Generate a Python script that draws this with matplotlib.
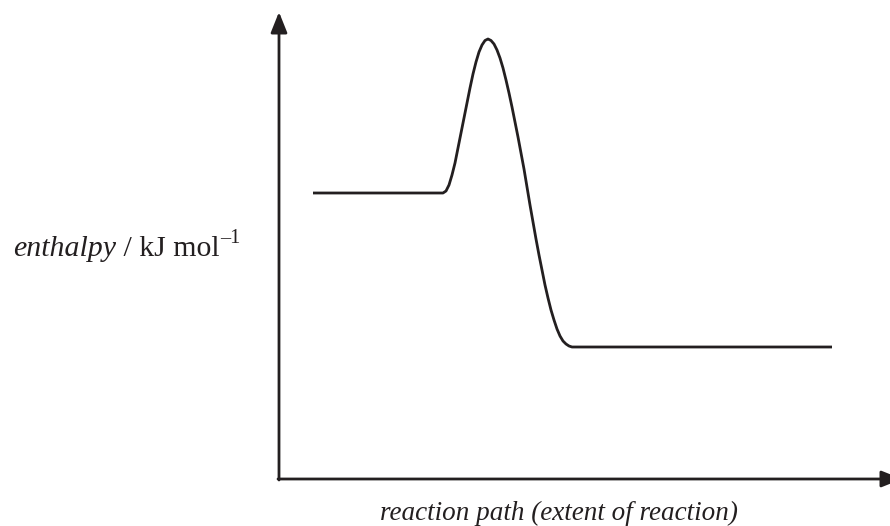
import matplotlib as mpl
mpl.use('agg')
import matplotlib.pyplot as plt

plt.rcParams['font.family'] = ['Liberation Serif', 'DejaVu Serif']

# enthalpy profile (x = reaction path, y = enthalpy, picture units)
path_x = [313, 443, 446, 449, 452, 455, 458, 461, 464, 467, 470, 473, 476, 479,
          482, 485, 488, 491, 494, 497, 500, 503, 506, 509, 512, 515, 518, 521,
          524, 527, 530, 533, 536, 539, 542, 545, 548, 551, 554, 557, 560, 563,
          566, 569, 572, 576, 832]
path_y = [193, 193, 191, 185, 175, 163, 148, 133, 118, 103, 88, 74, 62, 52,
          45, 40.5, 39, 40.5, 44, 50, 58, 68, 80, 93, 107, 122, 137, 153,
          169, 187, 205, 222, 239, 255, 270, 285, 298, 310, 320, 329, 336, 341,
          344, 346, 347, 347, 347]

x_label = "reaction path (extent of reaction)"
y_label_italic = "enthalpy"
y_label_units = " / kJ mol"
y_label_sup = "\u20131"

W, H = 890, 526
ink = '#231f20'
fig = plt.figure(figsize=(W / 100, H / 100), dpi=100)
ax = fig.add_axes([0, 0, 1, 1])
ax.set_xlim(0, W)
ax.set_ylim(H, 0)
ax.axis('off')

# axes with arrow heads
arrow = dict(arrowstyle='-|>,head_length=1.25,head_width=0.5', color=ink,
             lw=2.0, shrinkA=0, shrinkB=0)
ax.annotate('', xy=(279, 12), xytext=(279, 480), arrowprops=arrow,
            annotation_clip=False)
ax.annotate('', xy=(902, 479), xytext=(278, 479), arrowprops=arrow,
            annotation_clip=False)

# the curve
ax.plot(path_x, path_y, color=ink, lw=2.0, solid_capstyle='butt',
        solid_joinstyle='round')

# y label built from pieces: italic word, upright units, superscript
def right_edge(t):
    fig.canvas.draw()
    bb = t.get_window_extent()
    return ax.transData.inverted().transform((bb.x1, bb.y0))[0]

t1 = ax.text(13, 256, y_label_italic, fontsize=21.5, style='italic', color=ink,
             va='baseline', ha='left')
t2 = ax.text(right_edge(t1), 256, y_label_units, fontsize=21.5, color=ink,
             va='baseline', ha='left')
ax.text(right_edge(t2) + 1, 243, y_label_sup, fontsize=14.5, color=ink,
        va='baseline', ha='left')

ax.text(380, 520, x_label, fontsize=19.5, style='italic', color=ink,
        va='baseline', ha='left')

fig.savefig('out.png', dpi=100)
